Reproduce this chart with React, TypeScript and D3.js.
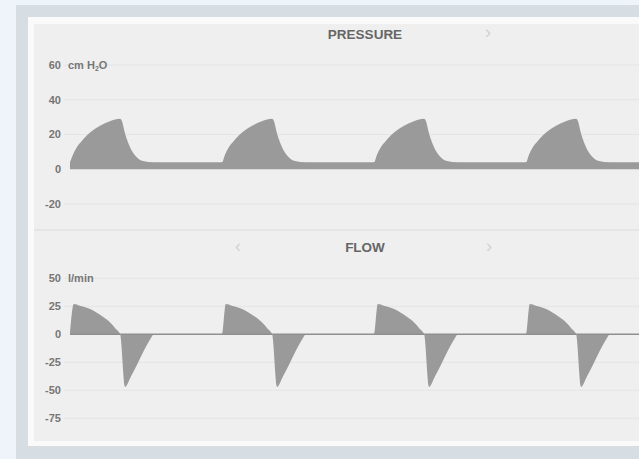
import { useEffect, useRef } from "react";
import * as d3 from "d3";

// breath starts (s) and one breath's waveform
const cycleStarts = [0, 4, 8, 12];
const endTime = 15;

const pressureT = [0, 0.08, 0.18, 0.3, 0.44, 0.79, 1.05, 1.32, 1.36, 1.45, 1.58, 1.75, 1.92, 2.2];
const pressureV = [4, 8.5, 12.7, 16, 19.4, 25, 27.6, 29, 28, 20.4, 12.7, 7, 4.7, 4];
const peep = 4;

const flowT = [0, 0.1, 0.26, 0.5, 0.79, 1.05, 1.2, 1.32, 1.45, 1.6, 1.78, 1.97, 2.12, 2.21];
const flowV = [0, 27, 25.5, 23, 17.5, 10.7, 5, 0, -47, -38, -26, -13, -4, 0];

const pressureTicks = [60, 40, 20, 0, -20];
const flowTicks = [50, 25, 0, -25, -50, -75];

function buildSeries(ts, vs, tail) {
  const pts = [];
  cycleStarts.forEach((s) => {
    ts.forEach((t, i) => pts.push({ t: s + t, v: vs[i] }));
  });
  pts.push({ t: endTime, v: tail });
  return pts;
}

function App() {
  const ref = useRef(null);

  useEffect(() => {
    const svg = d3.select(ref.current);
    svg.selectAll("*").remove();

    const width = 639;
    const height = 459;
    const font = "'Liberation Sans', Arial, sans-serif";

    // screen frame
    svg.append("rect").attr("width", width).attr("height", height).attr("fill", "#eef4f9");
    svg.append("rect").attr("x", 16).attr("y", 5).attr("width", width - 16).attr("height", height - 5).attr("fill", "#d6dee3");
    svg.append("rect").attr("x", 28).attr("y", 17).attr("width", width - 28).attr("height", 429).attr("fill", "#fafafa");
    svg.append("rect").attr("x", 34).attr("y", 24).attr("width", width - 34).attr("height", 417).attr("fill", "#efefef");

    svg.append("line")
      .attr("x1", 34).attr("x2", width).attr("y1", 230).attr("y2", 230)
      .attr("stroke", "#dcdcdc").attr("stroke-width", 1.2);

    const x = d3.scaleLinear().domain([0, endTime]).range([70, 640]);

    const panels = [
      {
        title: "PRESSURE", titleY: 39, unit: "pressure",
        y: d3.scaleLinear().domain([-20, 60]).range([204, 65]),
        ticks: pressureTicks,
        data: buildSeries(pressureT, pressureV, peep),
        zeroLine: false,
        chevrons: [{ x: 488, y: 38, c: "›" }],
      },
      {
        title: "FLOW", titleY: 252, unit: "flow",
        y: d3.scaleLinear().domain([-75, 50]).range([418.3, 278.3]),
        ticks: flowTicks,
        data: buildSeries(flowT, flowV, 0),
        zeroLine: true,
        chevrons: [{ x: 238, y: 252, c: "‹" }, { x: 489, y: 252, c: "›" }],
      },
    ];

    panels.forEach((p) => {
      const g = svg.append("g");

      g.selectAll("line.grid")
        .data(p.ticks.filter((d) => d !== 0))
        .enter()
        .append("line")
        .attr("x1", 64).attr("x2", width)
        .attr("y1", (d) => p.y(d)).attr("y2", (d) => p.y(d))
        .attr("stroke", "#e4e4e4").attr("stroke-width", 1);

      g.selectAll("text.tick")
        .data(p.ticks)
        .enter()
        .append("text")
        .attr("x", 61)
        .attr("y", (d) => p.y(d))
        .attr("dy", "0.36em")
        .attr("text-anchor", "end")
        .attr("font-family", font)
        .attr("font-size", 11)
        .attr("font-weight", "bold")
        .attr("fill", "#767676")
        .text((d) => d);

      const area = d3.area()
        .x((d) => x(d.t))
        .y0(p.y(0))
        .y1((d) => p.y(d.v))
        .curve(d3.curveMonotoneX);

      g.append("path")
        .datum(p.data)
        .attr("fill", "#9a9a9a")
        .attr("d", area);

      if (p.zeroLine) {
        g.append("line")
          .attr("x1", x(0)).attr("x2", width)
          .attr("y1", p.y(0)).attr("y2", p.y(0))
          .attr("stroke", "#8f8f8f").attr("stroke-width", 1.5);
      }

      g.append("text")
        .attr("x", 365).attr("y", p.titleY)
        .attr("text-anchor", "middle")
        .attr("font-family", font)
        .attr("font-size", 13.5)
        .attr("font-weight", "bold")
        .attr("fill", "#666")
        .text(p.title);

      p.chevrons.forEach((c) => {
        g.append("text")
          .attr("x", c.x).attr("y", c.y)
          .attr("text-anchor", "middle")
          .attr("font-family", font)
          .attr("font-size", 18)
          .attr("fill", "#d2d2d2")
          .text(c.c);
      });

      const top = p.y(p.ticks[0]);
      const unit = g.append("text")
        .attr("x", 68).attr("y", top)
        .attr("dy", "0.36em")
        .attr("font-family", font)
        .attr("font-size", 11)
        .attr("font-weight", "bold")
        .attr("fill", "#767676");
      if (p.unit === "pressure") {
        unit.append("tspan").text("cm H");
        unit.append("tspan").attr("font-size", 7).attr("dy", 2).text("2");
        unit.append("tspan").attr("dy", -2).text("O");
      } else {
        unit.text("l/min");
      }
    });
  }, []);

  return (
    <svg
      ref={ref}
      width={639}
      height={459}
      style={{ position: "absolute", left: 0, top: 0, display: "block" }}
    />
  );
}

export default App;
